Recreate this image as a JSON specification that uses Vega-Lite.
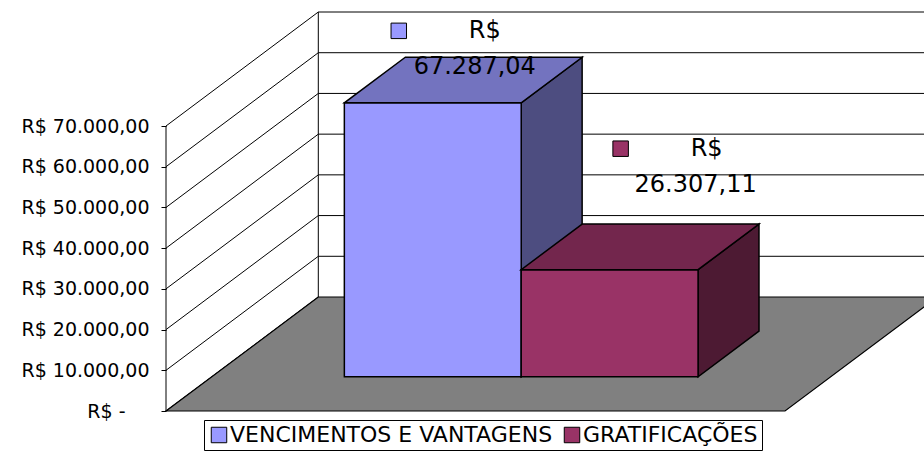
{
  "$schema": "https://vega.github.io/schema/vega-lite/v6.json",
  "width": 758,
  "height": 411,
  "autosize": {"type": "none"},
  "padding": {"left": 166, "top": 0, "right": 0, "bottom": 41},
  "background": "white",
  "config": {"view": {"stroke": null}},
  "datasets": {
    "barras": [
      {"serie": "VENCIMENTOS E VANTAGENS", "valor": 67287.04},
      {"serie": "GRATIFICAÇÕES", "valor": 26307.11}
    ],
    "grade": [
      {"v": 0}, {"v": 10000}, {"v": 20000}, {"v": 30000},
      {"v": 40000}, {"v": 50000}, {"v": 60000}, {"v": 70000}
    ],
    "piso": [{"p": 0}, {"p": 1}]
  },
  "layer": [
    {
      "data": {"name": "grade"},
      "transform": [{"calculate": "datum.v + 28000", "as": "vb"}],
      "mark": {"type": "rule", "color": "black", "strokeWidth": 1},
      "encoding": {
        "x": {"datum": 0, "type": "quantitative", "scale": {"domain": [0, 2.449], "nice": false, "zero": false}, "axis": null},
        "x2": {"datum": 0.4921},
        "y": {
          "field": "v", "type": "quantitative",
          "scale": {"domain": [0, 100948], "nice": false, "zero": false},
          "axis": {
            "title": null, "domain": false, "grid": false,
            "values": [0, 10000, 20000, 30000, 40000, 50000, 60000, 70000],
            "tickColor": "black", "tickSize": 5, "tickWidth": 1,
            "labelFont": "DejaVu Sans", "labelFontSize": 19, "labelColor": "black",
            "labelPadding": {"condition": {"test": "datum.value == 0", "value": 36}, "value": 12},
            "labelOverlap": false, "labelFlush": false,
            "labelExpr": "datum.value == 0 ? 'R$ -' : 'R$ ' + replace(replace(replace(format(datum.value, ',.2f'), ',', '#'), '.', ','), '#', '.')"
          }
        },
        "y2": {"field": "vb"}
      }
    },
    {
      "data": {"name": "grade"},
      "transform": [{"filter": "datum.v > 0"}, {"calculate": "datum.v + 28000", "as": "vb"}],
      "mark": {"type": "rule", "color": "black", "strokeWidth": 1},
      "encoding": {
        "x": {"datum": 0.4921, "type": "quantitative", "scale": {"domain": [0, 2.449], "nice": false, "zero": false}, "axis": null},
        "x2": {"datum": 2.6},
        "y": {"field": "vb", "type": "quantitative", "scale": {"domain": [0, 100948], "nice": false, "zero": false}, "axis": {"title": null}}
      }
    },
    {
      "data": {"name": "grade"},
      "mark": {"type": "rule", "color": "black", "strokeWidth": 1},
      "encoding": {
        "x": {"datum": 0, "type": "quantitative", "scale": {"domain": [0, 2.449], "nice": false, "zero": false}, "axis": null},
        "y": {"aggregate": "min", "field": "v", "type": "quantitative", "scale": {"domain": [0, 100948], "nice": false, "zero": false}, "axis": {"title": null}},
        "y2": {"aggregate": "max", "field": "v"}
      }
    },
    {
      "data": {"name": "grade"},
      "transform": [{"calculate": "datum.v + 28000", "as": "vb"}],
      "mark": {"type": "rule", "color": "black", "strokeWidth": 1},
      "encoding": {
        "x": {"datum": 0.4921, "type": "quantitative", "scale": {"domain": [0, 2.449], "nice": false, "zero": false}, "axis": null},
        "y": {"aggregate": "min", "field": "vb", "type": "quantitative", "scale": {"domain": [0, 100948], "nice": false, "zero": false}, "axis": {"title": null}},
        "y2": {"aggregate": "max", "field": "vb"}
      }
    },
    {
      "data": {"name": "piso"},
      "transform": [
        {"calculate": "datum.p * 0.4921", "as": "xi"},
        {"calculate": "2 + datum.p * 0.4921", "as": "xf"},
        {"calculate": "datum.p * 28000", "as": "yp"}
      ],
      "mark": {"type": "area", "orient": "horizontal", "fill": "#808080", "stroke": "black", "strokeWidth": 1.2, "opacity": 1},
      "encoding": {
        "y": {"field": "yp", "type": "quantitative", "scale": {"domain": [0, 100948], "nice": false, "zero": false}, "axis": {"title": null}},
        "x": {"field": "xi", "type": "quantitative", "scale": {"domain": [0, 2.449], "nice": false, "zero": false}, "axis": null},
        "x2": {"field": "xf"}
      }
    },
    {
      "data": {"name": "barras"},
      "transform": [
        {"window": [{"op": "row_number", "as": "n"}]},
        {"calculate": "0.4286 + (datum.n - 1) * 0.5714", "as": "xa"},
        {"calculate": "datum.xa + 0.5714", "as": "xb"},
        {"calculate": "[0.3, 0.7]", "as": "f"},
        {"flatten": ["f"]},
        {"calculate": "datum.xa + datum.f * 0.4921", "as": "px0"},
        {"calculate": "datum.xb + datum.f * 0.4921", "as": "px1"},
        {"calculate": "datum.f * 28000", "as": "base"},
        {"calculate": "datum.valor + datum.f * 28000", "as": "topo"},
        {"calculate": "(datum.px0 + datum.px1) / 2", "as": "xm"},
        {"calculate": "replace(replace(replace(format(datum.valor, ',.2f'), ',', '#'), '.', ','), '#', '.')", "as": "rotulo"}
      ],
      "resolve": {"scale": {"fill": "independent"}},
      "layer": [
        {
          "mark": {"type": "area", "orient": "vertical", "stroke": "black", "strokeWidth": 1.5, "opacity": 1},
          "encoding": {
            "x": {"field": "px1", "type": "quantitative", "scale": {"domain": [0, 2.449], "nice": false, "zero": false}, "axis": null},
            "y": {"field": "topo", "type": "quantitative", "scale": {"domain": [0, 100948], "nice": false, "zero": false}, "axis": {"title": null}},
            "y2": {"field": "base"},
            "detail": {"field": "serie"},
            "fill": {"field": "serie", "type": "nominal", "scale": {"domain": ["VENCIMENTOS E VANTAGENS", "GRATIFICAÇÕES"], "range": ["#4D4D80", "#4D1A33"]}, "legend": null}
          }
        },
        {
          "transform": [{"filter": "datum.f == 0.3"}],
          "mark": {"type": "rect", "stroke": "black", "strokeWidth": 1.5, "opacity": 1},
          "encoding": {
            "x": {"field": "px0", "type": "quantitative", "scale": {"domain": [0, 2.449], "nice": false, "zero": false}, "axis": null},
            "x2": {"field": "px1"},
            "y": {"field": "base", "type": "quantitative", "scale": {"domain": [0, 100948], "nice": false, "zero": false}, "axis": {"title": null}},
            "y2": {"field": "topo"},
            "color": {
              "field": "serie", "type": "nominal", "sort": null,
              "scale": {"domain": ["VENCIMENTOS E VANTAGENS", "GRATIFICAÇÕES"], "range": ["#9999FF", "#993366"]},
              "legend": {
                "title": null, "orient": "none", "legendX": 38, "legendY": 420,
                "direction": "horizontal", "symbolType": "square", "symbolSize": 240,
                "symbolStrokeColor": "black", "symbolStrokeWidth": 1, "symbolOpacity": 1,
                "labelFont": "DejaVu Sans", "labelFontSize": 22, "labelColor": "black",
                "labelLimit": 0,
                "labelOffset": 0, "columnPadding": 8, "padding": 4,
                "strokeColor": "black", "fillColor": "white", "cornerRadius": 0
              }
            }
          }
        },
        {
          "mark": {"type": "area", "orient": "horizontal", "stroke": "black", "strokeWidth": 1.5, "opacity": 1},
          "encoding": {
            "y": {"field": "topo", "type": "quantitative", "scale": {"domain": [0, 100948], "nice": false, "zero": false}, "axis": {"title": null}},
            "x": {"field": "px0", "type": "quantitative", "scale": {"domain": [0, 2.449], "nice": false, "zero": false}, "axis": null},
            "x2": {"field": "px1"},
            "detail": {"field": "serie"},
            "fill": {"field": "serie", "type": "nominal", "scale": {"domain": ["VENCIMENTOS E VANTAGENS", "GRATIFICAÇÕES"], "range": ["#7373BF", "#73264D"]}, "legend": null}
          }
        },
        {
          "transform": [{"filter": "datum.f == 0.3 && datum.n == 1"}],
          "encoding": {
            "x": {"field": "xm", "type": "quantitative", "scale": {"domain": [0, 2.449], "nice": false, "zero": false}, "axis": null},
            "y": {"field": "topo", "type": "quantitative", "scale": {"domain": [0, 100948], "nice": false, "zero": false}, "axis": {"title": null}}
          },
          "layer": [
            {
              "mark": {"type": "text", "font": "DejaVu Sans", "fontSize": 24, "color": "black", "align": "center", "baseline": "alphabetic", "dx": 42, "dy": -29},
              "encoding": {"text": {"field": "rotulo"}}
            },
            {
              "mark": {"type": "text", "font": "DejaVu Sans", "fontSize": 24, "color": "black", "align": "center", "baseline": "alphabetic", "dx": 52, "dy": -64.5},
              "encoding": {"text": {"value": "R$"}}
            },
            {
              "mark": {"type": "point", "shape": "square", "size": 240, "filled": true, "fill": "#9999FF", "stroke": "black", "strokeWidth": 1, "opacity": 1, "xOffset": -34, "yOffset": -72},
              "encoding": {}
            }
          ]
        },
        {
          "transform": [{"filter": "datum.f == 0.3 && datum.n == 2"}],
          "encoding": {
            "x": {"field": "xm", "type": "quantitative", "scale": {"domain": [0, 2.449], "nice": false, "zero": false}, "axis": null},
            "y": {"field": "topo", "type": "quantitative", "scale": {"domain": [0, 100948], "nice": false, "zero": false}, "axis": {"title": null}}
          },
          "layer": [
            {
              "mark": {"type": "text", "font": "DejaVu Sans", "fontSize": 24, "color": "black", "align": "center", "baseline": "alphabetic", "dx": 86, "dy": -78},
              "encoding": {"text": {"field": "rotulo"}}
            },
            {
              "mark": {"type": "text", "font": "DejaVu Sans", "fontSize": 24, "color": "black", "align": "center", "baseline": "alphabetic", "dx": 97, "dy": -113.5},
              "encoding": {"text": {"value": "R$"}}
            },
            {
              "mark": {"type": "point", "shape": "square", "size": 240, "filled": true, "fill": "#993366", "stroke": "black", "strokeWidth": 1, "opacity": 1, "xOffset": 11, "yOffset": -121},
              "encoding": {}
            }
          ]
        }
      ]
    }
  ]
}
